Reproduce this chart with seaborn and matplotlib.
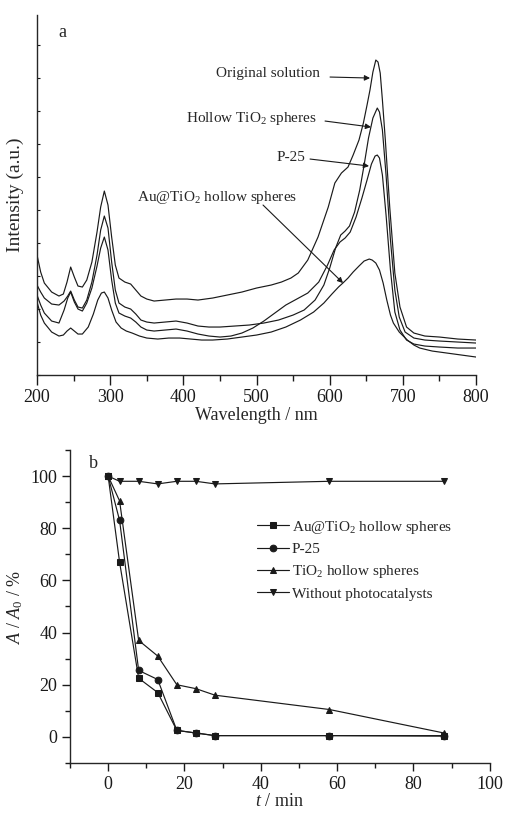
import numpy as np
import pandas as pd
import matplotlib
matplotlib.use('Agg')
import matplotlib.pyplot as plt
from matplotlib.ticker import MultipleLocator
import seaborn as sns

# ---- panel a: UV-vis spectra (wavelength in nm, intensity in arbitrary units) ----
orig_wl = [200, 205, 210, 220, 230, 236, 241, 246, 251, 256, 262, 268, 275, 282, 287, 292, 297, 302,
           307, 312, 320, 328, 335, 342, 350, 360, 375, 390, 405, 420, 440, 460, 480, 500, 520,
           534, 547, 557, 570, 584, 598, 607, 616, 625, 632, 640, 646, 651, 655, 659, 663, 666, 669,
           672, 676, 682, 689, 696, 705, 715, 730, 750, 775, 800]
orig_y = [255, 272, 283, 292, 296, 294, 282, 267, 277, 286, 287, 280, 262, 232, 207, 191, 205, 237,
          265, 278, 282, 284, 290, 296, 299, 301, 300, 299, 299, 300, 298, 295, 292, 288, 285,
          282, 278, 273, 260, 237, 207, 183, 173, 167, 155, 140, 123, 105, 90, 72, 60, 62, 73,
          100, 140, 207, 273, 307, 327, 333, 336, 337, 339, 340]

hollow_wl = [200, 205, 210, 220, 230, 237, 242, 246, 251, 256, 262, 268, 275, 282, 287, 292, 297, 302,
             307, 312, 320, 328, 335, 342, 350, 360, 375, 390, 405, 420, 435, 450, 470, 490, 510, 530,
             550, 565, 580, 592, 600, 608, 615, 621, 627, 634, 641, 647, 653, 659, 665, 668, 672, 677,
             683, 689, 695, 703, 715, 730, 750, 775, 800]
hollow_y = [285, 292, 298, 304, 305, 301, 296, 291, 300, 307, 308, 300, 282, 255, 230, 216, 228, 262,
            290, 303, 307, 309, 314, 320, 322, 323, 322, 321, 323, 326, 327, 327, 326, 325, 323, 320,
            315, 310, 300, 285, 268, 248, 235, 231, 226, 212, 190, 165, 138, 118, 108, 112, 130, 175,
            240, 290, 317, 332, 338, 340, 341, 342, 343]

p25_wl = [200, 205, 210, 220, 230, 237, 242, 246, 251, 256, 262, 268, 275, 282, 287, 292, 297, 302,
          307, 312, 320, 328, 335, 342, 350, 360, 375, 390, 405, 420, 435, 450, 465, 480, 495, 510,
          525, 540, 555, 570, 585, 597, 606, 614, 621, 628, 636, 644, 651, 657, 662, 665, 668, 672,
          677, 683, 689, 696, 705, 715, 730, 750, 775, 800]
p25_y = [295, 305, 313, 321, 323, 310, 298, 292, 302, 309, 311, 303, 288, 266, 248, 237, 250, 280,
         303, 313, 316, 318, 322, 327, 330, 331, 330, 329, 331, 334, 336, 337, 336, 333, 328, 321,
         313, 305, 299, 293, 282, 265, 250, 242, 238, 232, 217, 198, 180, 164, 156, 155, 158, 175,
         215, 270, 312, 330, 340, 344, 346, 347, 348, 348]

au_wl = [200, 205, 210, 220, 230, 236, 241, 246, 251, 256, 262, 270, 277, 283, 288, 292, 297, 302,
         308, 315, 322, 330, 340, 350, 365, 380, 395, 410, 425, 440, 460, 480, 500, 520, 540, 560,
         578, 592, 603, 612, 618, 625, 632, 640, 647, 654, 658, 663, 668, 673, 678, 683, 687, 695,
         706, 715, 723, 740, 760, 780, 800]
au_y = [302, 315, 323, 332, 336, 335, 331, 328, 331, 334, 334, 327, 314, 300, 293, 292, 298, 310,
        322, 328, 331, 333, 336, 338, 339, 338, 338, 339, 340, 340, 339, 337, 335, 332, 327, 320,
        312, 303, 294, 287, 283, 278, 272, 266, 261, 259, 260, 263, 270, 283, 300, 315, 323, 332,
        340, 345, 348, 351, 353, 355, 357]

# ---- panel b: degradation kinetics ----
t_min = [0, 3, 8, 13, 18, 23, 28, 58, 88]
au_tio2 = [100, 67, 22.5, 17, 2.5, 1.5, 0.5, 0.5, 0.5]
p25 = [100, 83, 25.5, 22, 2.5, 1.5, 0.5, 0.5, 0.3]
tio2_hollow = [100, 90.5, 37, 31, 20, 18.5, 16, 10.5, 1.5]
no_cat = [100, 98, 98, 97, 98, 98, 97, 98, 98]

sns.set_theme(style='ticks')
plt.rcParams['font.family'] = ['Liberation Serif', 'DejaVu Serif']
plt.rcParams['mathtext.fontset'] = 'custom'
plt.rcParams['mathtext.rm'] = 'Liberation Serif'
plt.rcParams['mathtext.it'] = 'Liberation Serif:italic'
plt.rcParams['axes.linewidth'] = 1.0
plt.rcParams['xtick.color'] = 'k'
plt.rcParams['ytick.color'] = 'k'

fig = plt.figure(figsize=(5.07, 8.13), dpi=100)
ax1 = fig.add_axes([0.073, 0.5387, 0.866, 0.4428])
ax2 = fig.add_axes([0.138, 0.0615, 0.828, 0.385])

lw = 0.85
for wl, y in [(orig_wl, orig_y), (hollow_wl, hollow_y), (p25_wl, p25_y), (au_wl, au_y)]:
    inten = 375 - np.array(y)
    sns.lineplot(x=wl, y=inten, ax=ax1, color='k', lw=lw)

ax1.set_xlim(200, 800)
ax1.set_ylim(0, 360)
ax1.xaxis.set_major_locator(MultipleLocator(100))
ax1.xaxis.set_minor_locator(MultipleLocator(50))
ax1.yaxis.set_major_locator(MultipleLocator(33))
ax1.set_yticklabels([])
ax1.tick_params(axis='x', which='major', length=7, width=1, labelsize=13, pad=3)
ax1.tick_params(axis='x', which='minor', length=4, width=1)
ax1.tick_params(axis='y', which='major', length=2, width=0.8, direction='in')
ax1.set_xlabel('Wavelength / nm', fontsize=13, labelpad=1)
ax1.set_ylabel('Intensity (a.u.)', fontsize=14, labelpad=6)
sns.despine(ax=ax1)
ax1.text(0.048, 0.975, 'a', transform=ax1.transAxes, fontsize=13, va='top')

def px2d(px, py):
    return 200 + (px - 37) / 0.7317, 375 - py

arrow = dict(arrowstyle='-|>', color='k', lw=0.8, mutation_scale=8, shrinkA=0, shrinkB=0)
labels_a = [
    ('Original solution', (320, 73), (330, 77), (370, 78)),
    ('Hollow TiO$_2$ spheres', (317, 118), (325, 121), (371, 127)),
    ('P-25', (305, 157), (310, 159), (369, 166)),
    ('Au@TiO$_2$ hollow spheres', (297, 197), (263, 205), (343, 283)),
]
for txt, tpos, a0, a1 in labels_a:
    ax1.text(*px2d(*tpos), txt, ha='right', va='center', fontsize=11)
    ax1.annotate('', xy=px2d(*a1), xytext=px2d(*a0), arrowprops=arrow)

series_b = [
    ('Au@TiO$_2$ hollow spheres', au_tio2, 's'),
    ('P-25', p25, 'o'),
    ('TiO$_2$ hollow spheres', tio2_hollow, '^'),
    ('Without photocatalysts', no_cat, 'v'),
]
for name, vals, mk in series_b:
    sns.lineplot(x=t_min, y=vals, ax=ax2, color='k', lw=0.85, marker=mk, markersize=4.8,
                 markeredgecolor='k', label=name)

ax2.set_xlim(-10, 100)
ax2.set_ylim(-10, 110)
ax2.xaxis.set_major_locator(MultipleLocator(20))
ax2.xaxis.set_minor_locator(MultipleLocator(10))
ax2.yaxis.set_major_locator(MultipleLocator(20))
ax2.yaxis.set_minor_locator(MultipleLocator(10))
ax2.set_yticks([0, 20, 40, 60, 80, 100])
ax2.tick_params(axis='both', which='major', length=6, width=1, labelsize=13, pad=3)
ax2.tick_params(axis='both', which='minor', length=3.5, width=1)
ax2.set_xlabel('$t$ / min', fontsize=13, labelpad=0)
ax2.set_ylabel('$A$ / $A_0$ / %', fontsize=13, labelpad=4)
sns.despine(ax=ax2)
ax2.text(0.045, 0.985, 'b', transform=ax2.transAxes, fontsize=13, va='top')
ax2.legend(loc='upper left', bbox_to_anchor=(0.43, 0.8), frameon=False, fontsize=11,
           handlelength=2.1, handletextpad=0.2, labelspacing=0.45, borderaxespad=0)

fig.savefig('out.png', dpi=100)
